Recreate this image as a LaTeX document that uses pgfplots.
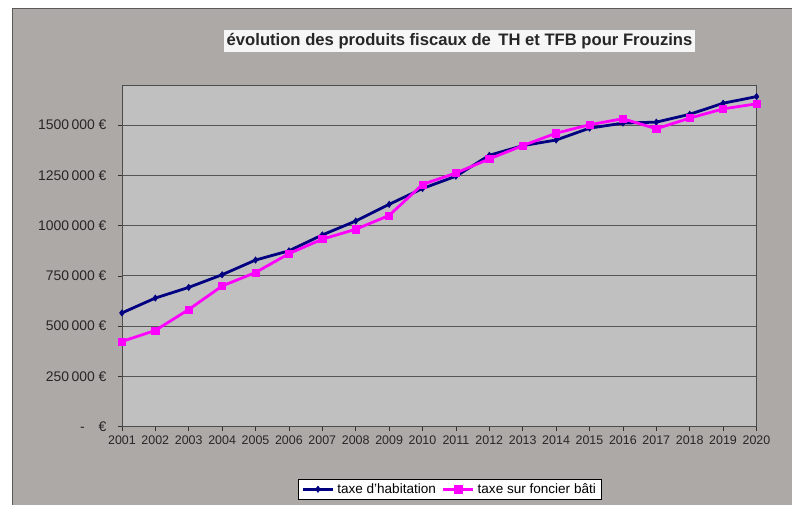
\documentclass[border=0pt]{standalone}
\usepackage{pgfplots}
\pgfplotsset{compat=1.18}
\usepackage{fontspec}
\setmainfont{Liberation Sans}
\definecolor{outerbg}{HTML}{ADA9A6}
\definecolor{plotbg}{HTML}{C0C0C0}
\definecolor{gridc}{HTML}{555555}
\definecolor{thc}{HTML}{000080}
\definecolor{tfbc}{HTML}{FF00FF}
\begin{document}
\begin{tikzpicture}[x=1bp,y=1bp]
\fill[white] (0,0) rectangle (792,505);
\fill[outerbg] (13,0) rectangle (792,496);
\draw[gray!70!black,line width=1bp] (13,0) -- (13,496) -- (792,496);
\begin{axis}[
  at={(122bp,78bp)}, anchor=south west,
  scale only axis, width=635bp, height=342bp,
  xmin=2001, xmax=2020, ymin=0, ymax=1700000,
  scaled y ticks=false,
  axis background/.style={fill=plotbg},
  axis line style={gray!60!black, line width=0.8bp},
  xtick={2001,2002,...,2020},
  ytick={0,250000,500000,750000,1000000,1250000,1500000},
  yticklabels={-\hspace{14bp}€, 250\,000 €, 500\,000 €, 750\,000 €, 1000\,000 €, 1250\,000 €, 1500\,000 €},
  /pgf/number format/.cd, 1000 sep={}, assume math mode=true, /pgfplots/.cd,
  tick align=outside, major tick length=4bp,
  xtick pos=bottom, ytick pos=left,
  tick style={gray!40!black, line width=0.7bp},
  ymajorgrids, grid style={gridc, line width=1.1bp},
  xticklabel style={font=\fontsize{12.5}{14}\selectfont, text=black!85, yshift=-2bp},
  yticklabel style={font=\fontsize{14}{16}\selectfont, text=black!85, xshift=-8bp},
  title={\bfseries évolution des produits fiscaux de\, TH et TFB pour Frouzins},
  title style={at={(0.532,1.111)}, anchor=center, yshift=0pt, fill=white!93!gray, inner xsep=3bp, inner ysep=3.5bp, font=\fontsize{16.7}{19}\selectfont, text=black!85},
  legend style={at={(0.5165,-0.183)}, anchor=center, draw=black, fill=white, font=\fontsize{13.6}{15}\selectfont, inner xsep=3bp, inner ysep=2bp, column sep=1bp, /tikz/every even column/.append style={column sep=4bp}},
  legend columns=2,
  legend image code/.code={
    \draw[mark repeat=2,mark phase=2] plot coordinates {(0bp,0bp) (15bp,0bp) (30bp,0bp)};
  },
]
\addplot[thc, line width=2.8bp, mark=diamond*, mark size=3.2bp, mark options={fill=thc, line width=0.5bp}] coordinates {
(2001,566000) (2002,640000) (2003,693000) (2004,756000) (2005,829000)
(2006,875000) (2007,954000) (2008,1023000) (2009,1106000) (2010,1185000)
(2011,1246000) (2012,1350000) (2013,1398000) (2014,1426000) (2015,1485000)
(2016,1510000) (2017,1515000) (2018,1554000) (2019,1609000) (2020,1642000)
};
\addlegendentry{taxe d'habitation}
\addplot[tfbc, line width=2.8bp, mark=square*, mark size=3.6bp, mark options={fill=tfbc, line width=0.5bp}] coordinates {
(2001,424000) (2002,479000) (2003,583000) (2004,700000) (2005,767000)
(2006,861000) (2007,933000) (2008,982000) (2009,1051000) (2010,1205000)
(2011,1262000) (2012,1332000) (2013,1398000) (2014,1460000) (2015,1502000)
(2016,1532000) (2017,1482000) (2018,1535000) (2019,1581000) (2020,1606000)
};
\addlegendentry{taxe sur foncier bâti}
\end{axis}
\end{tikzpicture}
\end{document}
